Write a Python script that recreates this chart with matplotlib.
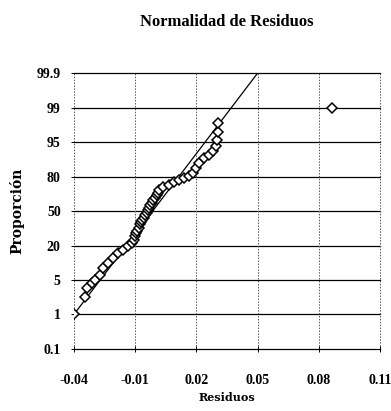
import matplotlib
matplotlib.use('Agg')
import matplotlib.pyplot as plt
import numpy as np

# proportion ticks (percent) shown evenly spaced on the y axis
prop_ticks = [0.1, 1, 5, 20, 50, 80, 95, 99, 99.9]
x_ticks = [-0.04, -0.01, 0.02, 0.05, 0.08, 0.11]

# residuals and their cumulative proportion (%)
residuos = [-0.0400, -0.0346, -0.0336, -0.0311, -0.0296, -0.0272, -0.0257,
            -0.0232, -0.0208, -0.0183, -0.0158, -0.0134, -0.0114, -0.0104,
            -0.0099, -0.0094, -0.0089, -0.0080, -0.0074, -0.0070, -0.0065,
            -0.0058, -0.0050, -0.0042, -0.0035, -0.0030, -0.0025, -0.0018,
            -0.0010, -0.0003, 0.0005, 0.0012, 0.0019, 0.0039, 0.0064, 0.0088,
            0.0113, 0.0138, 0.0162, 0.0182, 0.0197, 0.0212, 0.0236, 0.0261,
            0.0281, 0.0296, 0.0301, 0.0306, 0.0306, 0.0863]
proporcion = [1.0, 3.0, 4.1, 4.6, 5.0, 7.1, 10.2, 12.4, 14.6, 16.7, 18.0,
              19.8, 22.0, 25.0, 28.4, 30.5, 32.6, 35.5, 38.6, 40.5, 42.2,
              44.3, 46.4, 48.6, 50.9, 53.0, 55.1, 57.4, 59.6, 61.7, 63.8,
              66.0, 68.3, 71.0, 72.5, 75.2, 77.0, 78.8, 80.2, 81.5, 83.7,
              85.9, 88.1, 89.3, 91.1, 93.2, 95.2, 96.2, 97.2, 99.0]

# reference line
linea_x = [-0.04, 0.05]
linea_p = [1, 99.9]

pos = np.arange(len(prop_ticks))


def forward(p):
    return np.interp(p, prop_ticks, pos)


def inverse(v):
    return np.interp(v, pos, prop_ticks)


def main():
    fig = plt.figure(figsize=(3.91, 4.11), dpi=100)
    ax = fig.add_axes([0.189, 0.151, 0.783, 0.671])
    ax.set_yscale('function', functions=(forward, inverse))

    ax.plot(linea_x, linea_p, color='black', lw=0.9, zorder=3)
    ax.plot(residuos, proporcion, linestyle='none', marker='D', markersize=5,
            markerfacecolor='white', markeredgecolor='black',
            markeredgewidth=1.1, zorder=4)

    ax.set_xlim(-0.04, 0.11)
    ax.set_ylim(0.1, 99.9)
    ax.set_xticks(x_ticks)
    ax.set_xticklabels(['%g' % v for v in x_ticks])
    ax.set_yticks(prop_ticks)
    ax.set_yticklabels(['%g' % v for v in prop_ticks])
    ax.minorticks_off()

    for v in prop_ticks:
        ax.axhline(v, color='black', lw=0.9, zorder=1, clip_on=False)
    for v in x_ticks:
        ax.axvline(v, color='#555555', lw=0.7, ls=(0, (1.5, 1.5)), zorder=1,
                   clip_on=False)
    for s in ax.spines.values():
        s.set_visible(False)

    ax.tick_params(axis='y', direction='inout', length=5, width=0.7,
                   pad=7, labelsize=10)
    ax.tick_params(axis='x', direction='inout', length=4, width=0.7,
                   pad=16, labelsize=10)
    for lab in ax.get_xticklabels() + ax.get_yticklabels():
        lab.set_family('Liberation Serif')
        lab.set_fontweight('bold')

    fig.suptitle('Normalidad de Residuos', x=0.58, y=0.965,
                 family='Liberation Serif', fontweight='bold', fontsize=12)
    ax.set_xlabel('Residuos', family='DejaVu Serif', fontweight='bold',
                  fontsize=8, labelpad=4)
    ax.set_ylabel('Proporción', family='DejaVu Serif', fontweight='bold',
                  fontsize=10, labelpad=9)

    fig.savefig('out.png', dpi=100)


if __name__ == '__main__':
    main()
